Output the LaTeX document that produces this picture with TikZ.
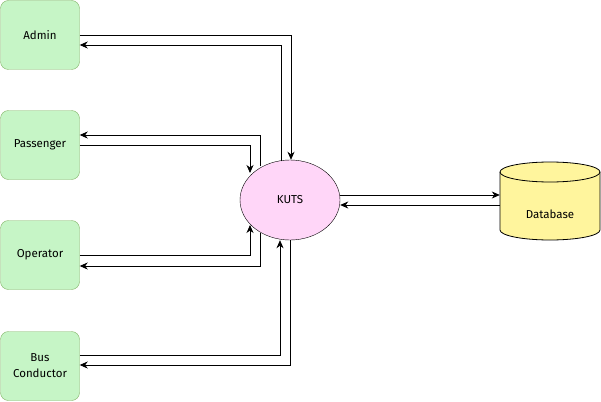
\documentclass[tikz,border=0pt]{standalone}
\usepackage{fontspec}
\setmainfont{Fira Sans}
\usetikzlibrary{shapes.geometric,arrows.meta}
\definecolor{actorfill}{HTML}{C6F5C6}
\definecolor{actordraw}{HTML}{82B366}
\definecolor{procfill}{HTML}{FFD6F8}
\definecolor{dbfill}{HTML}{FFF59D}
\begin{document}
\begin{tikzpicture}[x=1pt,y=-1pt,
  every node/.style={font=\fontsize{11.5}{16}\selectfont},
  actor/.style={draw=actordraw,fill=actorfill,rounded corners=8pt,
    minimum width=79pt,minimum height=69pt,align=center,inner sep=0pt},
  proc/.style={ellipse,draw=black,fill=procfill,minimum width=100pt,
    minimum height=80pt,inner sep=0pt},
  flow/.style={draw=black,line width=0.8pt,-{Stealth[length=8pt,width=7pt,inset=2.5pt]}}]
  \useasboundingbox (0,0) rectangle (601,401);

  % external entities
  \node[actor] (admin) at (40,35) {Admin};
  \node[actor] (pass) at (40,145) {Passenger};
  \node[actor] (oper) at (40,255) {Operator};
  \node[actor] (cond) at (40,366) {Bus\\Conductor};

  % central process
  \node[proc] (kuts) at (290,200) {KUTS};

  % data store drawn as a cylinder (y axis points down here)
  \filldraw[fill=dbfill,draw=black,line width=0.8pt]
    (500,172) -- (500,230) arc[start angle=180,end angle=0,x radius=50,y radius=10]
    -- (600,172) arc[start angle=0,end angle=-180,x radius=50,y radius=10] -- cycle;
  \draw[line width=0.8pt] (500,172) arc[start angle=180,end angle=0,x radius=50,y radius=10];
  \node[minimum width=100pt,minimum height=80pt,inner sep=0pt] (db) at (550,200) {};
  \node at (550,214) {Database};

  % Admin <-> KUTS
  \draw[flow] (admin.east |- 0,35) -| (kuts.north -| 291,0);
  \draw[flow] (kuts.north -| 281,0) ++(0,1.5) |- (admin.east |- 0,45);

  % Passenger <-> KUTS
  \coordinate (pin) at (250,173);
  \coordinate (pout) at (260,166);
  \draw[flow] (pass.east |- 0,145) -| (pin);
  \draw[flow] (pout) |- (pass.east |- 0,135);

  % Operator <-> KUTS
  \coordinate (oin) at (250,225);
  \coordinate (oout) at (260,233);
  \draw[flow] (oper.east |- 0,255) -| (oin);
  \draw[flow] (oout) |- (oper.east |- 0,266);

  % Bus Conductor <-> KUTS
  \draw[flow] (cond.east |- 0,355) -| (kuts.south -| 280,0);
  \draw[flow] (kuts.south -| 290,0) |- (cond.east |- 0,365);

  % KUTS <-> Database
  \draw[flow] (kuts.east |- 0,195) -- (db.west |- 0,195);
  \draw[flow] (db.west |- 0,205) -- (kuts.east |- 0,205);
\end{tikzpicture}
\end{document}
